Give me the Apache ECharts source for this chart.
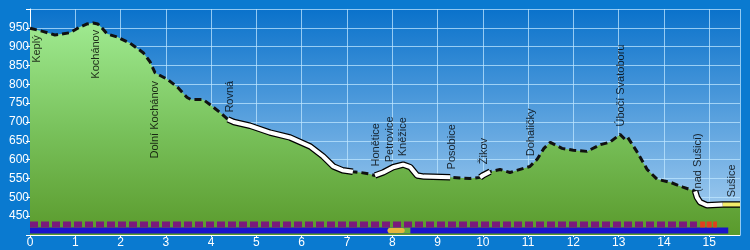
<!DOCTYPE html>
<html>
<head>
<meta charset="utf-8">
<script src="https://cdn.jsdelivr.net/npm/echarts@6/dist/echarts.min.js"></script>
<style>
  html, body { margin: 0; padding: 0; background: #0a7ad0; }
  #profile { width: 750px; height: 250px; }
</style>
</head>
<body>
<div id="profile"></div>
<script>
// vyskovy profil trasy Keply - Susice (km, m n. m.)
const profileKm = [0, 0.3, 0.55, 0.88, 1.1, 1.25, 1.39, 1.5, 1.6, 1.7, 1.92, 2.2, 2.5, 2.65, 2.76, 3.05, 3.27, 3.47, 3.55, 3.82, 3.98, 4.2,
  4.37, 4.5, 4.86, 5.3, 5.74, 6.19, 6.47, 6.7, 6.9, 7.13, 7.3, 7.5, 7.62, 7.8, 8.02, 8.24, 8.4, 8.55, 8.7, 9.28, 9.72, 9.94,
  10.0, 10.16, 10.38, 10.6, 11.04, 11.2, 11.35, 11.49, 11.75, 12.0, 12.3, 12.6, 12.8, 13.03, 13.14, 13.2, 13.4, 13.63, 13.85,
  14.14, 14.42, 14.69, 14.73, 14.8, 14.95, 15.3, 15.68];
const profileAlt = [949, 940, 931, 937, 952, 960, 963, 960, 948, 934, 926, 910, 884, 860, 831, 812, 791, 765, 760, 760, 746, 725,
  707, 700, 690, 672, 659, 635, 609, 582, 572, 568, 566, 562, 558, 566, 580, 587, 580, 558, 555, 553, 550, 553,
  558, 568, 574, 566, 582, 601, 630, 646, 630, 625, 622, 640, 646, 667, 654, 659, 622, 574, 548,
  540, 527, 516, 500, 487, 479, 481, 481];

// useky po silnici (bila cara) a zpevneny konec (zluta)
const roadSegments = [[4.37, 7.13], [7.62, 9.28], [9.94, 10.16], [14.69, 15.3]];
const townSegments = [[15.3, 15.68]];

// mista na trase
const placeNames = ["Keplý", "Kochánov", "Dolní Kochánov", "Rovná", "Honětice", "Petrovice", "Kněžice", "Posobice",
  "Žikov", "Dohaličky", "Úbočí Svatoboru", "(nad Sušicí)", "Sušice"];
const placeKm = [0.15, 1.46, 2.76, 4.42, 7.64, 7.95, 8.24, 9.32, 10.03, 11.07, 13.05, 14.76, 15.51];
const placeLabelAlt = [857, 815, 603, 725, 582, 593, 609, 574, 588, 609, 688, 514, 500];

// znaceni a povrch pod profilem
const markPurple = [0, 14.73];
const markRed = [14.8, 15.17];
const surfaceBlue = [0, 15.42];
const surfaceGreen = [7.92, 8.4];
const surfaceOrange = [7.95, 8.22];
const markAlt = 428;
const surfaceAlt = 412;

const xTicks = [0, 15];
const yTicks = [450, 950];

function inRanges(km, ranges) {
  return ranges.some(r => km >= r[0] - 1e-6 && km <= r[1] + 1e-6);
}
function pick(ranges) {
  return profileKm.map((km, i) => [km, inRanges(km, ranges) ? profileAlt[i] : '-']);
}
function flat(r, alt) {
  return [[r[0], alt], [r[1], alt]];
}

const profile = profileKm.map((km, i) => [km, profileAlt[i]]);
const places = placeNames.map((n, i) => ({ name: n, value: [placeKm[i], placeLabelAlt[i]] }));

const chart = echarts.init(document.getElementById('profile'));
const FONT = '"Liberation Sans", Arial, sans-serif';

chart.setOption({
  animation: false,
  backgroundColor: '#0a7ad0',
  grid: {
    left: 30, right: 10, top: 9, bottom: 15,
    show: true,
    borderWidth: 0,
    backgroundColor: new echarts.graphic.LinearGradient(0, 0, 0, 1, [
      { offset: 0, color: '#0a72cb' },
      { offset: 1, color: '#aed3f2' }
    ])
  },
  xAxis: {
    type: 'value',
    min: 0, max: 15.68, interval: 1,
    axisLine: { lineStyle: { color: '#ffffff', width: 1 } },
    axisTick: { show: true, length: 2, lineStyle: { color: '#ffffff' } },
    axisLabel: {
      color: '#ffffff', fontFamily: FONT, fontSize: 12, margin: 2,
      showMaxLabel: false,
      formatter: v => (Number.isInteger(v) && v >= xTicks[0] && v <= xTicks[1]) ? String(v) : ''
    },
    splitLine: { show: true, lineStyle: { color: 'rgba(190,230,255,0.75)', width: 1 } }
  },
  yAxis: {
    type: 'value',
    min: 400, max: 1000, interval: 50,
    axisLine: { show: true, lineStyle: { color: '#ffffff', width: 1 } },
    axisTick: { show: true, length: 4, lineStyle: { color: '#ffffff' } },
    axisLabel: {
      color: '#ffffff', fontFamily: FONT, fontSize: 12, margin: 1,
      formatter: v => (v >= yTicks[0] && v <= yTicks[1]) ? String(v) : ''
    },
    splitLine: { show: true, lineStyle: { color: 'rgba(190,230,255,0.75)', width: 1 } }
  },
  series: [
    {
      type: 'line',
      data: profile,
      showSymbol: false,
      z: 2,
      lineStyle: { color: '#111111', width: 3, type: [7, 4] },
      areaStyle: {
        origin: 'start',
        opacity: 1,
        color: new echarts.graphic.LinearGradient(0, 0, 0, 1, [
          { offset: 0, color: '#9fea90' },
          { offset: 0.5, color: '#79c25c' },
          { offset: 1, color: '#5a9a2c' }
        ])
      }
    },
    {
      type: 'line',
      data: pick(roadSegments.concat(townSegments)),
      showSymbol: false,
      z: 3,
      lineStyle: { color: '#000000', width: 6.5 }
    },
    {
      type: 'line',
      data: pick(roadSegments),
      showSymbol: false,
      z: 4,
      lineStyle: { color: '#ffffff', width: 4 }
    },
    {
      type: 'line',
      data: pick(townSegments),
      showSymbol: false,
      z: 4,
      lineStyle: { color: '#f2ec6a', width: 4 }
    },
    {
      type: 'line',
      data: flat(surfaceBlue, surfaceAlt),
      showSymbol: false,
      z: 5,
      lineStyle: { color: '#1a14cc', width: 6 }
    },
    {
      type: 'line',
      data: flat(surfaceGreen, surfaceAlt),
      showSymbol: false,
      z: 6,
      lineStyle: { color: '#6cae3c', width: 6 }
    },
    {
      type: 'line',
      data: flat(surfaceOrange, surfaceAlt),
      showSymbol: false,
      z: 7,
      lineStyle: { color: '#e6b83c', width: 5, cap: 'round' }
    },
    {
      type: 'line',
      data: flat(markPurple, markAlt),
      showSymbol: false,
      z: 6,
      lineStyle: { color: '#7a1a7c', width: 6, type: [8, 3] }
    },
    {
      type: 'line',
      data: flat(markRed, markAlt),
      showSymbol: false,
      z: 6,
      lineStyle: { color: '#e0401e', width: 6, type: [5, 1.5] }
    },
    {
      type: 'scatter',
      data: places,
      symbolSize: 0,
      z: 10,
      label: {
        show: true,
        position: 'inside',
        rotate: 90,
        align: 'left',
        verticalAlign: 'middle',
        color: '#000000',
        fontFamily: FONT,
        fontSize: 11,
        formatter: p => p.name
      }
    }
  ]
});
</script>
</body>
</html>
